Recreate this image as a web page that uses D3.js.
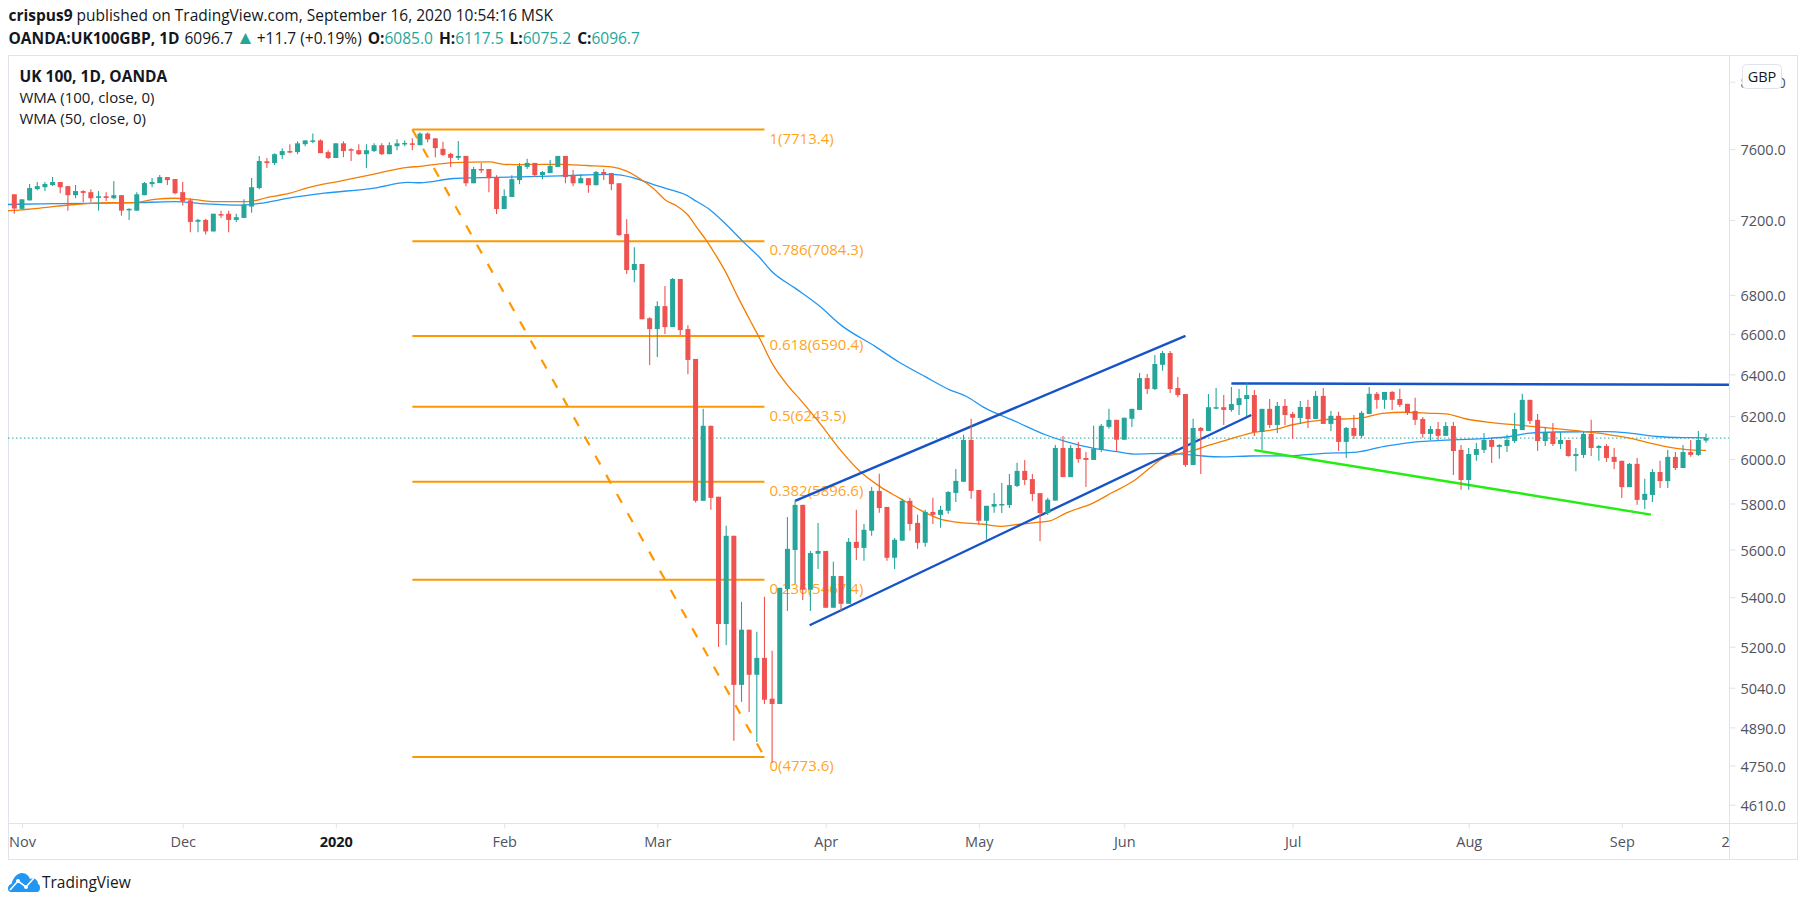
<!DOCTYPE html>
<html><head><meta charset="utf-8">
<script src="https://cdn.jsdelivr.net/npm/d3@7/dist/d3.min.js"></script>
<style>
html,body{margin:0;padding:0;background:#fff}
svg{display:block}
text{font-family:"Open Sans","Noto Sans",sans-serif;fill:#131722}
.axis text{fill:#50535e;font-size:14.5px}
.axis path,.axis line{stroke:#e0e3eb}
</style></head><body>
<svg id="c" width="1805" height="906"></svg>
<script>
const opens=[7342,7261,7308,7371,7382,7394,7411,7388,7337,7360,
7354,7322,7331,7320,7337,7253,7251,7337,7399,7405,
7439,7428,7354,7308,7190,7200,7137,7232,7234,7200,
7211,7274,7377,7529,7519,7565,7588,7582,7628,7645,
7650,7582,7548,7633,7599,7593,7570,7588,7622,7570,
7616,7629,7633,7622,7690,7662,7601,7572,7549,7560,
7404,7485,7485,7439,7260,7327,7422,7497,7520,7450,
7462,7497,7560,7445,7404,7433,7393,7468,7462,7404,
7123,6930,6962,6680,6625,6742,6635,6883,6625,6476,
5812,6154,5830,5291,5659,5051,5268,5090,5156,4998,
4978,5434,5598,5794,5431,5582,5594,5357,5488,5373,
5633,5607,5681,5856,5785,5565,5638,5812,5715,5629,
5763,5750,5768,5847,5897,6088,5860,5724,5786,5795,
5793,5878,5946,5909,5846,5758,5813,6051,5918,6051,
6005,5996,6042,6149,6182,6089,6187,6229,6382,6329,
6447,6505,6334,6305,5973,6144,6130,6237,6242,6229,
6252,6281,6300,6125,6234,6158,6248,6210,6191,6243,
6186,6296,6163,6201,6079,6144,6107,6210,6306,6277,
6315,6281,6258,6224,6186,6116,6139,6107,6153,6042,
5905,6019,6042,6088,6056,6060,6083,6134,6277,6182,
6083,6125,6069,6088,6014,6019,6116,6051,6060,6010,
5992,5873,5978,5816,5838,5941,5900,6010,5959,6032,
6019,6085];
const closes=[7263,7314,7377,7388,7400,7411,7382,7337,7360,7350,
7320,7331,7322,7337,7251,7261,7342,7405,7411,7439,
7422,7348,7303,7189,7200,7137,7234,7225,7200,7215,
7285,7382,7531,7519,7570,7588,7580,7633,7650,7650,
7576,7548,7633,7588,7590,7570,7593,7622,7570,7622,
7633,7635,7624,7690,7656,7605,7566,7549,7560,7404,
7485,7479,7433,7260,7332,7427,7503,7520,7450,7468,
7503,7560,7439,7404,7433,7393,7468,7454,7399,7117,
6930,6962,6675,6625,6742,6635,6883,6620,6471,5812,
6154,5825,5291,5659,5051,5268,5090,5156,4994,4978,
5439,5603,5794,5431,5585,5594,5357,5488,5373,5633,
5607,5685,5856,5780,5565,5642,5812,5710,5629,5763,
5750,5772,5851,5901,6088,5856,5724,5790,5798,5798,
5882,5946,5905,5842,5758,5817,6051,5918,6051,6000,
5996,6047,6154,6182,6089,6192,6234,6382,6329,6451,
6505,6329,6300,5973,6144,6130,6242,6242,6229,6257,
6285,6300,6125,6234,6158,6248,6205,6192,6243,6186,
6296,6163,6201,6079,6144,6107,6215,6306,6277,6315,
6277,6253,6215,6182,6116,6139,6107,6153,6037,5905,
6023,6046,6088,6056,6065,6088,6139,6277,6177,6083,
6125,6069,6088,6014,6023,6116,6051,6060,6005,5987,
5873,5978,5816,5843,5941,5900,6010,5959,6032,6019,
6088,6096.7];
const highs=[7342,7314,7400,7411,7411,7439,7411,7388,7394,7365,
7371,7360,7354,7417,7337,7265,7354,7411,7434,7451,
7439,7428,7411,7320,7206,7206,7234,7251,7251,7234,
7314,7434,7559,7548,7576,7605,7628,7645,7650,7690,
7656,7593,7633,7645,7605,7628,7628,7633,7633,7639,
7656,7650,7662,7696,7696,7662,7642,7578,7647,7560,
7497,7520,7485,7450,7370,7450,7520,7543,7520,7474,
7537,7560,7560,7479,7456,7433,7474,7485,7462,7404,
7204,7052,6962,6685,6767,6846,6888,6883,6645,6476,
6234,6154,5830,5702,5659,5381,5268,5260,5402,5184,
5439,5741,5812,5794,5594,5715,5594,5548,5488,5650,
5772,5710,5874,5933,5785,5650,5821,5825,5750,5772,
5825,5790,5856,5955,6112,6187,5860,5790,5847,5891,
5932,5983,5996,5932,5846,5826,6065,6106,6065,6079,
6032,6154,6163,6234,6182,6192,6234,6407,6402,6495,
6515,6515,6387,6305,6187,6149,6305,6334,6300,6339,
6329,6359,6324,6234,6281,6267,6281,6220,6272,6277,
6320,6334,6224,6220,6149,6205,6224,6339,6315,6315,
6320,6330,6258,6287,6196,6153,6172,6172,6172,6065,
6051,6074,6120,6098,6068,6112,6215,6306,6277,6210,
6149,6167,6125,6088,6051,6125,6182,6065,6069,6051,
5992,5982,6005,5910,5955,5992,6042,6032,6065,6088,
6130,6117.5];
const lows=[7234,7257,7308,7365,7360,7388,7348,7251,7320,7297,
7297,7251,7305,7314,7223,7200,7251,7337,7382,7405,
7394,7342,7280,7132,7132,7120,7137,7211,7132,7189,
7211,7240,7371,7491,7508,7542,7576,7570,7616,7633,
7576,7542,7548,7553,7531,7565,7491,7582,7565,7570,
7593,7616,7593,7622,7639,7553,7560,7497,7537,7387,
7404,7462,7354,7232,7260,7327,7399,7485,7439,7427,
7462,7497,7404,7387,7404,7350,7393,7422,7365,7112,
6909,6866,6675,6446,6485,6600,6635,6595,6401,5805,
5812,5772,5199,5207,4840,4986,4948,4836,4978,4760,
4978,5344,5455,5389,5344,5518,5357,5357,5340,5373,
5556,5552,5659,5759,5552,5518,5638,5681,5603,5612,
5710,5694,5755,5807,5897,5821,5707,5642,5759,5758,
5780,5873,5882,5811,5636,5749,5813,5918,5918,5983,
5873,5996,6032,6140,6032,6089,6149,6229,6305,6324,
6418,6310,6290,5964,5973,5932,6130,6232,6158,6220,
6205,6200,6106,6042,6144,6120,6158,6094,6163,6144,
6186,6163,6130,6037,6005,6093,6098,6210,6234,6234,
6229,6243,6205,6158,6098,6088,6088,6107,5928,5861,
5861,5992,6028,5982,6001,6032,6074,6134,6163,6037,
6060,6060,6046,6010,5945,6005,6014,5992,5987,5955,
5824,5873,5794,5776,5807,5869,5869,5950,5959,6010,
6014,6075.2];

const wma50Idx=[-1,0,3.5,7.9,12.2,15.7,18.3,21,23.6,26.2,30.5,33,36,38.4,42.7,47,51.4,53,57.4,62.1,63.9,66,71.3,74.8,78,80,81.7,83.5,85.2,86.5,88,89.1,90.4,91.7,93,94.5,96.1,97.4,99,101,102.7,105.3,107.9,110.5,113.1,115.7,118.3,121,123,126.6,128.7,131.3,134,135.3,137.4,140.9,143.5,146.1,148.3,150,151.8,153.5,156.2,159.2,161.4,164.9,167,171,175.8,178.8,181.5,185,187,189.7,192.8,196.2,199.7,204,208.4,211.5,213.7,216.7,218.9,221];
const wma50=[7250,7253,7266,7285,7295,7295,7314,7320,7312,7301,7301,7323,7348,7380,7418,7456,7494,7500,7522,7526,7512,7510,7512,7505,7497,7473,7431,7374,7306,7278,7227,7162,7089,7005,6914,6791,6671,6576,6454,6348,6277,6163,6042,5943,5875,5823,5772,5731,5718,5709,5700,5709,5718,5724,5758,5802,5850,5898,5958,6003,6023,6034,6065,6096,6119,6138,6159,6182,6190,6213,6218,6213,6210,6186,6170,6158,6147,6131,6112,6093,6073,6051,6042,6040];
const wma100Idx=[-1,3.5,15.7,21,25,30,32,36.2,40.5,47,51.4,53,57.4,66,71.3,78,80.9,83.5,85.2,87.8,89.1,90.9,93,95.2,97.4,99,102,105.3,108,112.5,115.5,119,122.2,124.4,126.6,130.9,134.8,137.4,140.9,144,146.6,150,152.7,155.3,157.9,161.4,166.6,171,175.4,178.8,182.3,185.8,191.9,195.4,198,201.5,208,211,214.5,218,221];
const wma100=[7285,7289,7295,7301,7289,7282,7291,7323,7348,7377,7409,7407,7431,7440,7446,7454,7435,7397,7374,7337,7303,7255,7175,7082,6995,6921,6835,6739,6645,6537,6462,6389,6325,6293,6242,6173,6111,6080,6050,6034,6023,6026,6023,6014,6010,6014,6015,6026,6032,6057,6076,6085,6094,6104,6120,6125,6127,6120,6104,6099,6098];

const fibStartIdx=52, fibEndIdx=98;
const fibRatios=["1","0.786","0.618","0.5","0.382","0.236","0"];
const fibLabels=["7713.4","7084.3","6590.4","6243.5","5896.6","5467.4","4773.6"];
const fibLevels=[7713.4,7084.3,6590.4,6243.5,5896.6,5472,4781];
const trendChannelUpIdx=[102,153], trendChannelUp=[5812,6591];
const trendChannelLowIdx=[103.9,161.6], trendChannelLow=[5286,6205];
const trendFlatIdx=[159,224], trendFlat=[6356,6350];
const trendGreenIdx=[162,213.8], trendGreen=[6041,5751];
const lastClose=6096.7;

const priceTicks=[8000,7600,7200,6800,6600,6400,6200,6000,5800,5600,5400,5200,5040,4890,4750,4610];
const timeTickIdx=[1,22,42,64,84,106,126,145,167,190,210,223.5];
const timeTickLabels=["Nov","Dec","2020","Feb","Mar","Apr","May","Jun","Jul","Aug","Sep","2"];

const UP="#26a69a", DOWN="#ef5350", FIB="#ff9800", CH="#1653c9";
const svg=d3.select("#c");
const L=8,R=1797,T=55,B=859,AX=1729,XA=823;
const x=d3.scaleLinear().domain([0,221]).range([14.3,1706]);
const y=d3.scaleLog().domain([4610,7600]).range([804.7,149]);
const I=d3.range(opens.length);

svg.append("defs").append("clipPath").attr("id","p").append("rect")
  .attr("x",L).attr("y",T).attr("width",AX-L).attr("height",XA-T);

// header
const h1=svg.append("text").attr("x",8.5).attr("y",21).style("font-size","15.5px");
h1.append("tspan").style("font-weight",700).text("crispus9");
h1.append("tspan").text(" published on TradingView.com, September 16, 2020 10:54:16 MSK");
const h2=svg.append("text").attr("x",8.5).attr("y",44).style("font-size","15.5px");
h2.append("tspan").style("font-weight",700).text("OANDA:UK100GBP, 1D");
h2.append("tspan").attr("dx",5).text("6096.7");
h2.append("tspan").attr("dx",3).style("fill",UP).style("font-size","19px").text("▲");
h2.append("tspan").attr("dx",2).text("+11.7 (+0.19%)");
[["O:","6085.0"],["H:","6117.5"],["L:","6075.2"],["C:","6096.7"]].forEach(([k,v])=>{
  h2.append("tspan").attr("dx",6).style("font-weight",700).text(k);
  h2.append("tspan").style("fill",UP).text(v);
});

// frame
const fr=svg.append("g").attr("stroke","#e0e3eb").attr("fill","none");
fr.append("rect").attr("x",L+.5).attr("y",T+.5).attr("width",R-L).attr("height",B-T);
fr.append("line").attr("x1",AX+.5).attr("x2",AX+.5).attr("y1",T).attr("y2",B);
fr.append("line").attr("x1",L).attr("x2",R).attr("y1",XA+.5).attr("y2",XA+.5);

// axes
const ya=svg.append("g").attr("class","axis").attr("transform",`translate(${AX+.5},0)`)
  .call(d3.axisRight(y).tickValues(priceTicks).tickFormat(d3.format(".1f")).tickSize(6).tickPadding(5));
ya.select(".domain").remove();
ya.selectAll("text").attr("dy","0.39em");
const xa=svg.append("g").attr("class","axis").attr("transform",`translate(0,${XA+.5})`)
  .call(d3.axisBottom(x).tickValues(timeTickIdx).tickFormat((d,i)=>timeTickLabels[i]).tickSize(5).tickPadding(8));
xa.select(".domain").remove();
xa.selectAll(".tick").filter((d,i)=>timeTickLabels[i]==="2").select("line").remove();
xa.selectAll("text").style("fill","#50535e");
xa.selectAll(".tick").filter((d,i)=>timeTickLabels[i]==="2020").select("text").style("font-weight",700).style("fill","#131722");

// currency button
svg.append("rect").attr("x",1742.5).attr("y",64.5).attr("width",39).attr("height",24).attr("rx",4)
  .attr("fill","#fff").attr("stroke","#e0e3eb");
svg.append("text").attr("x",1762).attr("y",81.5).attr("text-anchor","middle").style("font-size","14.5px").style("fill","#131722").text("GBP");

const plot=svg.append("g").attr("clip-path","url(#p)");
plot.append("line").attr("x1",L).attr("x2",AX).attr("y1",y(lastClose)).attr("y2",y(lastClose))
  .attr("stroke",UP).attr("stroke-width",1).attr("stroke-dasharray","1.5,2.5");

// fib
plot.selectAll(".fib").data(fibLevels).join("line").attr("class","fib")
  .attr("x1",x(fibStartIdx)).attr("x2",x(fibEndIdx)).attr("y1",d=>y(d)).attr("y2",d=>y(d))
  .attr("stroke",FIB).attr("stroke-width",2);
plot.append("line").attr("x1",x(fibStartIdx)).attr("x2",x(fibEndIdx))
  .attr("y1",y(fibLevels[0])).attr("y2",y(fibLevels[6]))
  .attr("stroke",FIB).attr("stroke-width",2.2).attr("stroke-dasharray","10,12");
plot.selectAll(".fibl").data(fibLevels).join("text").attr("class","fibl")
  .attr("x",x(fibEndIdx)+5).attr("y",d=>y(d)+14)
  .style("font-size","15px").style("fill",FIB).style("fill-opacity",.9)
  .text((d,i)=>`${fibRatios[i]}(${fibLabels[i]})`);

// WMAs
const ln=(xs,ys,c)=>d3.line().x((d,i)=>x(xs[i])).y(d=>y(d)).curve(c||d3.curveLinear)(ys);
plot.append("path").attr("d",ln(wma100Idx,wma100,d3.curveMonotoneX)).attr("fill","none").attr("stroke","#2196f3").attr("stroke-width",1.3);
plot.append("path").attr("d",ln(wma50Idx,wma50,d3.curveMonotoneX)).attr("fill","none").attr("stroke","#f57c00").attr("stroke-width",1.3);

// trend lines
[[trendChannelUpIdx,trendChannelUp,CH],[trendChannelLowIdx,trendChannelLow,CH],[trendFlatIdx,trendFlat,CH],[trendGreenIdx,trendGreen,"#22ee11"]]
 .forEach(([a,b,c])=>plot.append("path").attr("d",ln(a,b)).attr("fill","none").attr("stroke",c).attr("stroke-width",2.4));

// candles
const col=i=>closes[i]>=opens[i]?UP:DOWN;
plot.selectAll(".w").data(I).join("line").attr("class","w")
  .attr("x1",i=>x(i)).attr("x2",i=>x(i)).attr("y1",i=>y(highs[i])).attr("y2",i=>y(lows[i]))
  .attr("stroke",col).attr("stroke-width",1.1);
plot.selectAll(".b").data(I).join("rect").attr("class","b")
  .attr("x",i=>x(i)-2.5).attr("width",5)
  .attr("y",i=>y(Math.max(opens[i],closes[i])))
  .attr("height",i=>Math.max(1.5,Math.abs(y(opens[i])-y(closes[i]))))
  .attr("fill",col);

// legend
svg.append("text").attr("x",19.5).attr("y",82).style("font-size","15.5px").style("font-weight",700).text("UK 100, 1D, OANDA");
svg.append("text").attr("x",19.5).attr("y",103).style("font-size","15px").text("WMA (100, close, 0)");
svg.append("text").attr("x",19.5).attr("y",124).style("font-size","15px").text("WMA (50, close, 0)");

// TradingView mark
const lg=svg.append("g").attr("transform","translate(8,873)");
lg.append("path").attr("fill","#2196f3")
  .attr("d","M3 19C1 19 0 17.5 0 15.5C0 13 1.5 11.5 3.5 11C5 5 9 0 14 0C18 0 21 3 22 6C23 5.5 24 5.5 25 5.5C28 5.5 30 8 30 11C31.5 11.5 32 13 32 15C32 17.5 30.5 19 29 19Z");
lg.append("path").attr("fill","none").attr("stroke","#fff").attr("stroke-width",1.6)
  .attr("d","M2 17L10 8L18 14L26 5");
lg.selectAll("circle").data([[10,8],[18,14]]).join("circle").attr("cx",d=>d[0]).attr("cy",d=>d[1]).attr("r",2).attr("fill","#fff");
svg.append("text").attr("x",42).attr("y",888).style("font-size","15.5px").style("fill","#131722").text("TradingView");
</script>
</body></html>
